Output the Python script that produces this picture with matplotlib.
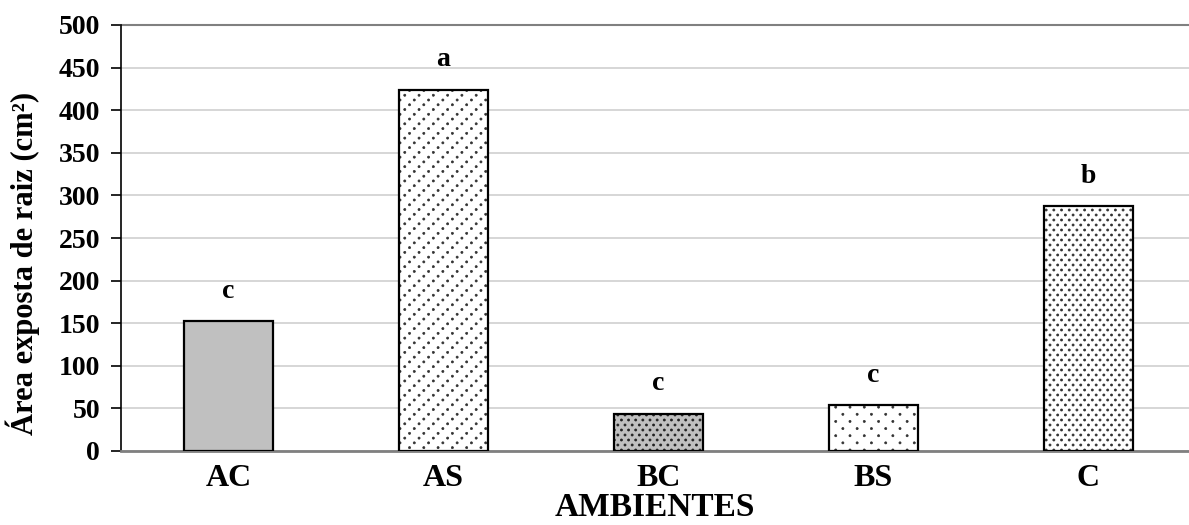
import matplotlib
matplotlib.use("Agg")
import numpy as np
import matplotlib.pyplot as plt
import matplotlib.hatch as mhatch
from matplotlib.path import Path

categories = ["AC", "AS", "BC", "BS", "C"]
values = [152, 424, 44, 54, 287]
letters = ["c", "a", "c", "c", "b"]
y_ticks = [0, 50, 100, 150, 200, 250, 300, 350, 400, 450, 500]

faces = ["#c0c0c0", "white", "#c0c0c0", "white", "white"]
hatches = [None, "..", "....", ".", "..."]
dot_colors = ["black", "#303030", "#202020", "#303030", "#303030"]


class DotLattice(mhatch.HatchPatternBase):
    """Dotted fills: the number of '.' picks a lattice (cols, rows, row shift)."""
    layouts = {
        1: (7, 14, 0.5),
        2: (7, 21, 1 / 3),
        3: (13, 20, 0.5),
        4: (14, 20, 0.5),
    }
    radius = 0.0105

    def __init__(self, hatch, density):
        layout = self.layouts.get(hatch.count("."))
        self.centers = []
        if layout is not None:
            ncols, nrows, shift = layout
            for r in range(nrows + 1):
                y = r / nrows
                off = (r * shift) % 1.0
                for c in range(-1, ncols + 2):
                    x = (c + off) / ncols
                    if -0.05 <= x <= 1.05:
                        self.centers.append((x, y))
        self.circle = Path.unit_circle()
        self.num_vertices = len(self.centers) * len(self.circle.vertices)

    def set_vertices_and_codes(self, vertices, codes):
        shape = self.circle.vertices * self.radius
        n = len(shape)
        for i, (x, y) in enumerate(self.centers):
            vertices[i * n:(i + 1) * n] = shape + [x, y]
            codes[i * n:(i + 1) * n] = self.circle.codes


mhatch._hatch_types[:] = [t for t in mhatch._hatch_types
                          if t is not mhatch.SmallFilledCircles] + [DotLattice]

plt.rcParams["font.family"] = ["Liberation Serif", "DejaVu Serif"]
plt.rcParams["font.weight"] = "bold"
plt.rcParams["hatch.linewidth"] = 0.5

fig = plt.figure(figsize=(11.89, 5.25), dpi=100)
ax = fig.add_axes([121 / 1189, 1 - 451 / 525, 1 - 121 / 1189, (451 - 25) / 525])

x = np.arange(len(categories))
# filled / dotted bodies (edge colour drives the dot colour), then black outlines
fills = ax.bar(x, values, width=0.41, color=faces, edgecolor=dot_colors,
               linewidth=0, zorder=3)
for b, h in zip(fills, hatches):
    if h:
        b.set_hatch(h)
ax.bar(x, values, width=0.41, fill=False, edgecolor="black", linewidth=1.6, zorder=4)

for xi, v, t in zip(x, values, letters):
    ax.text(xi, v + 35, t, ha="center", va="center", fontsize=20, fontweight="bold")

ax.set_ylim(0, 500)
ax.set_xlim(-0.5, (1189 - 121) / 215 - 0.5)
ax.set_yticks(y_ticks)
ax.set_xticks(x)
ax.set_xticklabels(categories)
ax.tick_params(axis="y", labelsize=20, length=7, width=1.2, direction="out", pad=8)
ax.tick_params(axis="x", labelsize=23, length=0, pad=9)
ax.yaxis.grid(True, color="#d0d0d0", linewidth=1.2, zorder=0)
ax.set_axisbelow(True)
for s in ["top", "right"]:
    ax.spines[s].set_visible(False)
ax.spines["left"].set_linewidth(1.2)
ax.spines["bottom"].set_color("#808080")
ax.spines["bottom"].set_linewidth(2)
ax.axhline(500, color="#808080", linewidth=1.5, zorder=1, clip_on=False)

ax.set_ylabel("Área exposta de raiz (cm²)", fontsize=22, fontweight="bold")
ax.yaxis.set_label_coords(-0.076, 0.44)
ax.set_xlabel("AMBIENTES", fontsize=24, fontweight="bold", labelpad=0)

fig.savefig("out.png", dpi=100)
